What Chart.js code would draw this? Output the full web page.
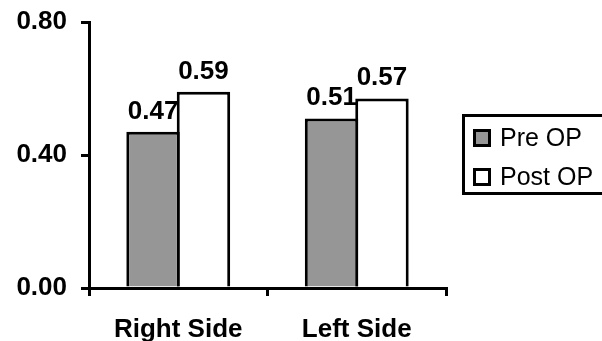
<!DOCTYPE html>
<html>
<head>
<meta charset="utf-8">
<script src="https://cdn.jsdelivr.net/npm/chart.js@4/dist/chart.umd.min.js"></script>
<style>
  html, body { margin: 0; padding: 0; background: #fff; }
  #wrap { width: 602px; height: 341px; }
</style>
</head>
<body>
<div id="wrap"><canvas id="c" width="602" height="341"></canvas></div>
<script>
const categories = ['Right Side', 'Left Side'];
const seriesNames = ['Pre OP', 'Post OP'];
const preOp = [0.47, 0.51];
const postOp = [0.59, 0.57];
const yMin = 0;
const yMax = 0.8;
const yStep = 0.4;

const FAMILY = '"Liberation Sans", Arial, sans-serif';
const fillColors = ['#969696', '#ffffff'];

const valueLabels = {
  id: 'valueLabels',
  afterDatasetsDraw(chart) {
    const ctx = chart.ctx;
    ctx.save();
    ctx.font = 'bold 26px ' + FAMILY;
    ctx.fillStyle = '#000';
    ctx.textAlign = 'center';
    ctx.textBaseline = 'alphabetic';
    chart.data.datasets.forEach((ds, i) => {
      chart.getDatasetMeta(i).data.forEach((bar, j) => {
        ctx.fillText(ds.data[j].toFixed(2), bar.x, bar.y - 13);
      });
    });
    ctx.restore();
  }
};

const boxLegend = {
  id: 'boxLegend',
  afterDraw(chart) {
    const ctx = chart.ctx;
    ctx.save();
    ctx.lineWidth = 3;
    ctx.strokeStyle = '#000';
    ctx.strokeRect(463.5, 115.5, 142, 78);
    ctx.font = '25px ' + FAMILY;
    ctx.textAlign = 'left';
    ctx.textBaseline = 'alphabetic';
    const rows = [{ y: 130, base: 146 }, { y: 169, base: 185 }];
    chart.data.datasets.forEach((ds, i) => {
      const r = rows[i];
      ctx.fillStyle = ds.backgroundColor;
      ctx.fillRect(474.5, r.y + 0.5, 15, 15);
      ctx.strokeRect(474.5, r.y + 0.5, 15, 15);
      ctx.fillStyle = '#000';
      ctx.fillText(ds.label, 500, r.base);
    });
    ctx.restore();
  }
};

new Chart(document.getElementById('c'), {
  type: 'bar',
  data: {
    labels: categories,
    datasets: [
      { label: seriesNames[0], data: preOp, backgroundColor: fillColors[0], borderColor: '#000', borderWidth: 3, borderSkipped: 'bottom' },
      { label: seriesNames[1], data: postOp, backgroundColor: fillColors[1], borderColor: '#000', borderWidth: 3, borderSkipped: 'bottom' }
    ]
  },
  options: {
    responsive: false,
    devicePixelRatio: 1,
    animation: false,
    categoryPercentage: 0.565,
    barPercentage: 1.06,
    layout: { padding: { left: 0, top: 22, right: 156, bottom: 0 } },
    plugins: { legend: { display: false }, tooltip: { enabled: false } },
    scales: {
      x: {
        offset: true,
        grid: { display: true, offset: true, drawOnChartArea: false, drawTicks: true, tickLength: 8, color: '#000', lineWidth: 3 },
        border: { display: true, color: '#000', width: 3 },
        ticks: { color: '#000', font: { family: FAMILY, weight: 'bold', size: 26 }, padding: 18, maxRotation: 0 },
        afterFit(s) { s.height = 53; s.paddingLeft = 0; s.paddingRight = 0; }
      },
      y: {
        min: yMin,
        max: yMax,
        grid: { display: true, drawOnChartArea: false, drawTicks: true, tickLength: 8, color: '#000', lineWidth: 3 },
        border: { display: true, color: '#000', width: 3 },
        ticks: { stepSize: yStep, color: '#000', font: { family: FAMILY, weight: 'bold', size: 26 }, padding: 14,
          callback: v => Number(v).toFixed(2) },
        afterFit(s) { s.width = 89; s.paddingTop = 0; s.paddingBottom = 0; }
      }
    }
  },
  plugins: [valueLabels, boxLegend]
});
</script>
</body>
</html>
